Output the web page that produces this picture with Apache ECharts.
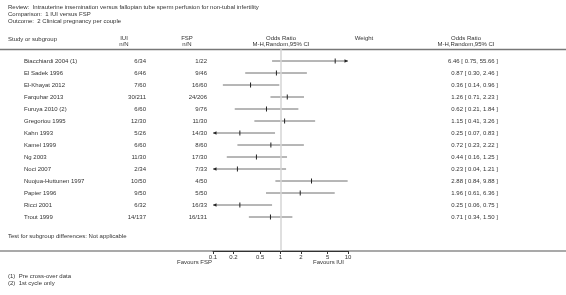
<!DOCTYPE html>
<html>
<head>
<meta charset="utf-8">
<script src="https://cdn.jsdelivr.net/npm/echarts@6/dist/echarts.min.js"></script>
<style>
html,body{margin:0;padding:0;background:#fff;}
#main{width:566px;height:295px;}
</style>
</head>
<body>
<div id="main"></div>
<script>
var studies = ['Biacchiardi 2004 (1)', 'El Sadek 1996', 'El-Khayat 2012', 'Farquhar 2013', 'Furuya 2010 (2)',
    'Gregoriou 1995', 'Kahn 1993', 'Kamel 1999', 'Ng 2003', 'Noci 2007', 'Nuojua-Huttunen 1997',
    'Papier 1996', 'Ricci 2001', 'Trout 1999'];
var iuiCounts = ['6/34', '6/46', '7/60', '30/211', '6/60', '12/30', '5/26', '6/60', '11/30', '2/34', '10/50', '9/50', '6/32', '14/137'];
var fspCounts = ['1/22', '9/46', '16/60', '24/206', '9/76', '11/30', '14/30', '8/60', '17/30', '7/33', '4/50', '5/50', '16/33', '16/131'];
var oddsRatio = [6.46, 0.87, 0.36, 1.26, 0.62, 1.15, 0.25, 0.72, 0.44, 0.23, 2.88, 1.96, 0.25, 0.71];
var ciLow = [0.75, 0.30, 0.14, 0.71, 0.21, 0.41, 0.07, 0.23, 0.16, 0.04, 0.84, 0.61, 0.06, 0.34];
var ciHigh = [55.66, 2.46, 0.96, 2.23, 1.84, 3.26, 0.83, 2.22, 1.25, 1.21, 9.88, 6.36, 0.75, 1.50];
var axisTicks = [0.1, 0.2, 0.5, 1, 2, 5, 10];

var FONT = 'Liberation Sans, Arial, sans-serif';
var TXT = '#333';
var FS = 6;

var chart1 = echarts.init(document.getElementById('main'), null, {renderer: 'canvas'});

var rows = [];
for (var i = 0; i < studies.length; i++) {
    rows.push([i, oddsRatio[i], ciLow[i], ciHigh[i]]);
}

function txt(x, y, s, align) {
    return {
        type: 'text',
        style: {x: x, y: y, text: s, fill: TXT, font: FS + 'px ' + FONT, textAlign: align || 'left', textVerticalAlign: 'middle'}
    };
}

// one row of the forest plot: CI line, estimate tick, arrows when clipped, table texts
function renderRow(params, api) {
    var k = api.value(0);
    var est = api.value(1), lo = api.value(2), hi = api.value(3);
    var y = api.coord([1, k])[1];
    var xl = api.coord([Math.max(lo, 0.1), k])[0];
    var xh = api.coord([Math.min(hi, 10), k])[0];
    var xp = api.coord([est, k])[0];
    var kids = [
        {type: 'line', shape: {x1: xl, y1: y, x2: xh, y2: y}, style: {stroke: '#6f6f6f', lineWidth: 1}},
        {type: 'rect', shape: {x: xp - 0.5, y: y - 2.5, width: 1, height: 5}, style: {fill: '#222'}},
        txt(24, y, studies[k]),
        txt(146, y, iuiCounts[k], 'right'),
        txt(207, y, fspCounts[k], 'right'),
        txt(498, y, oddsRatio[k].toFixed(2) + ' [ ' + ciLow[k].toFixed(2) + ', ' + ciHigh[k].toFixed(2) + ' ]', 'right')
    ];
    if (lo < 0.1) {
        kids.push({type: 'polygon', shape: {points: [[xl, y], [xl + 3.5, y - 1.8], [xl + 3.5, y + 1.8]]}, style: {fill: '#222'}});
    }
    if (hi > 10) {
        kids.push({type: 'polygon', shape: {points: [[xh, y], [xh - 3.5, y - 1.8], [xh - 3.5, y + 1.8]]}, style: {fill: '#222'}});
    }
    return {type: 'group', children: kids};
}

var option = {
    backgroundColor: '#fff',
    animation: false,
    grid: {left: 213, right: 218, top: 49, bottom: 44},
    xAxis: {
        type: 'log',
        logBase: 10,
        min: 0.1,
        max: 10,
        axisLine: {onZero: false, lineStyle: {color: '#333', width: 1}},
        axisTick: {show: true, length: 3, customValues: axisTicks, lineStyle: {color: '#333'}},
        axisLabel: {customValues: axisTicks, fontSize: FS, fontFamily: FONT, color: TXT, margin: 3,
            formatter: function (v) { return String(+v.toPrecision(3)); }},
        splitLine: {show: false},
        minorTick: {show: false}
    },
    yAxis: {type: 'value', min: -1, max: 15.8333, inverse: true, show: false},
    series: [
        {
            type: 'custom',
            renderItem: renderRow,
            clip: false,
            data: rows,
            markLine: {
                silent: true,
                symbol: ['none', 'none'],
                label: {show: false},
                lineStyle: {color: '#d4d4d4', width: 1.5, type: 'solid'},
                data: [{xAxis: 1}]
            }
        }
    ],
    graphic: [
        txt(8, 7, 'Review:  Intrauterine insemination versus fallopian tube sperm perfusion for non-tubal infertility'),
        txt(8, 14, 'Comparison:  1 IUI versus FSP'),
        txt(8, 21, 'Outcome:  2 Clinical pregnancy per couple'),
        txt(8, 39, 'Study or subgroup'),
        txt(124, 38, 'IUI', 'center'),
        txt(124, 44, 'n/N', 'center'),
        txt(187, 38, 'FSP', 'center'),
        txt(187, 44, 'n/N', 'center'),
        txt(281, 38, 'Odds Ratio', 'center'),
        txt(281, 44, 'M-H,Random,95% CI', 'center'),
        txt(364, 38, 'Weight', 'center'),
        txt(466, 38, 'Odds Ratio', 'center'),
        txt(466, 44, 'M-H,Random,95% CI', 'center'),
        {type: 'line', shape: {x1: 0, y1: 49.5, x2: 566, y2: 49.5}, style: {stroke: '#777', lineWidth: 1.5}},
        {type: 'line', shape: {x1: 0, y1: 251, x2: 566, y2: 251}, style: {stroke: '#555', lineWidth: 1.2}},
        txt(8, 236, 'Test for subgroup differences: Not applicable'),
        txt(212, 262, 'Favours FSP', 'right'),
        txt(313, 262, 'Favours IUI'),
        txt(8, 276, '(1)  Pre cross-over data'),
        txt(8, 283, '(2)  1st cycle only')
    ]
};

chart1.setOption(option);
window.addEventListener('resize', function () { chart1.resize(); });
</script>
</body>
</html>
